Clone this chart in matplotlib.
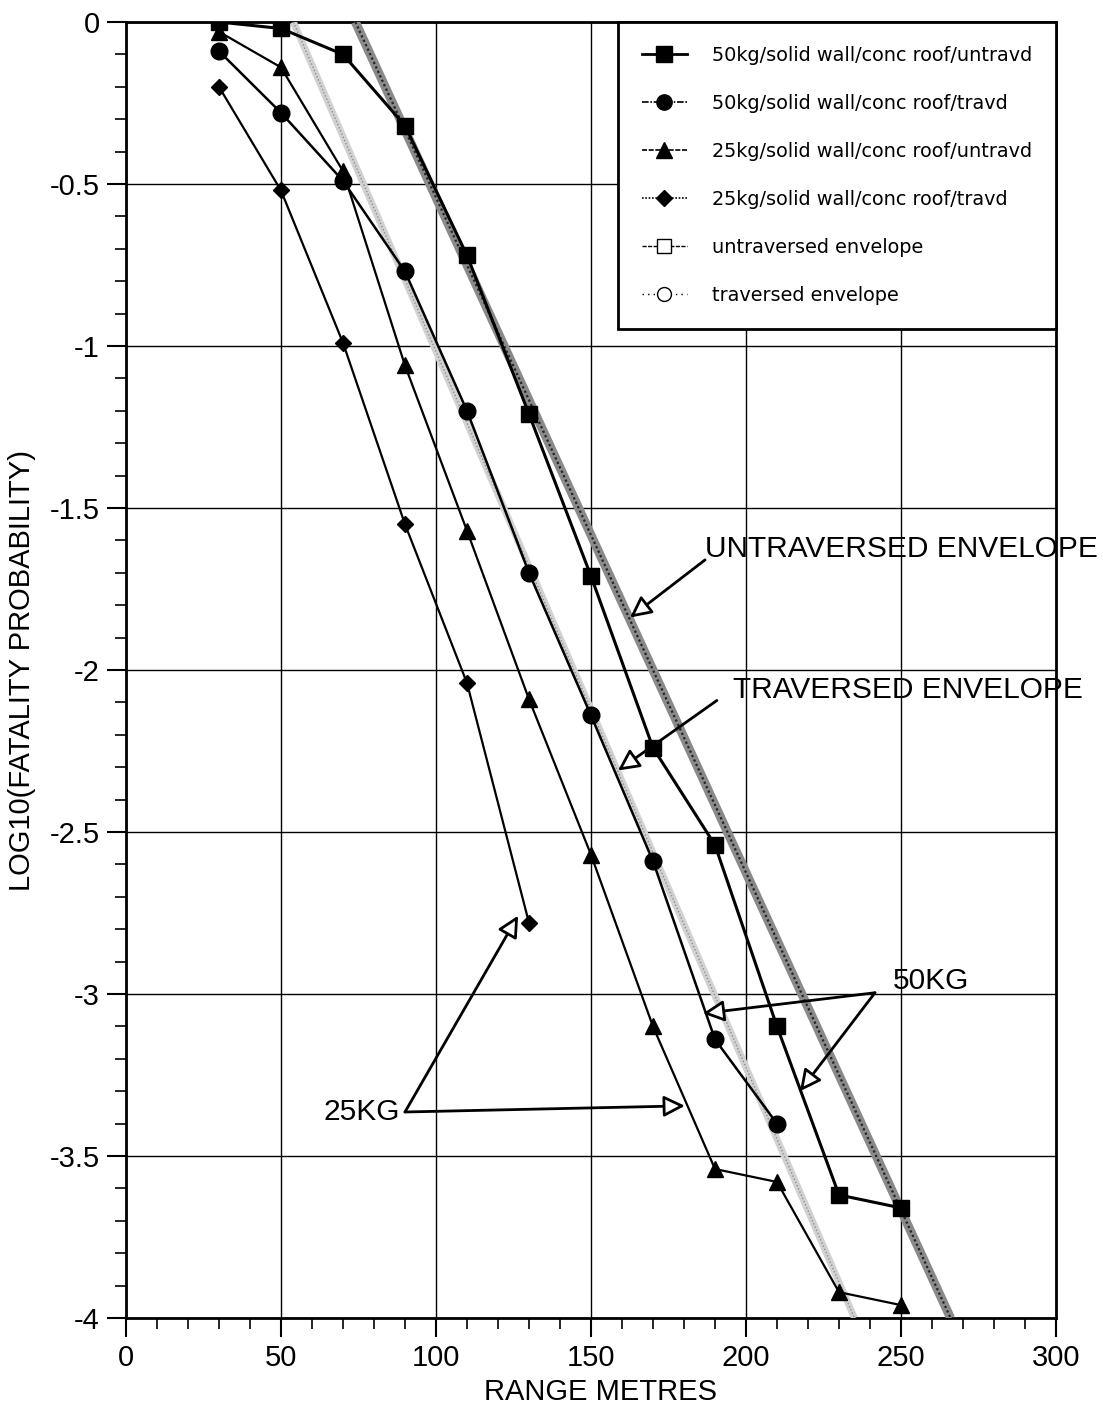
import matplotlib
matplotlib.use("Agg")
import matplotlib.pyplot as plt
from matplotlib.lines import Line2D
from matplotlib.ticker import MultipleLocator, FuncFormatter

plt.rcParams['font.family'] = ['Liberation Sans', 'DejaVu Sans']

# Data
range_50_untrav = [30, 50, 70, 90, 110, 130, 150, 170, 190, 210, 230, 250]
log_50_untrav = [0.0, -0.02, -0.10, -0.32, -0.72, -1.21, -1.71, -2.24, -2.54, -3.10, -3.62, -3.66]

range_50_trav = [30, 50, 70, 90, 110, 130, 150, 170, 190, 210]
log_50_trav = [-0.09, -0.28, -0.49, -0.77, -1.20, -1.70, -2.14, -2.59, -3.14, -3.40]

range_25_untrav = [30, 50, 70, 90, 110, 130, 150, 170, 190, 210, 230, 250]
log_25_untrav = [-0.03, -0.14, -0.46, -1.06, -1.57, -2.09, -2.57, -3.10, -3.54, -3.58, -3.92, -3.96]

range_25_trav = [30, 50, 70, 90, 110, 130]
log_25_trav = [-0.20, -0.52, -0.99, -1.55, -2.04, -2.78]

range_untrav_env = [74, 266]
log_untrav_env = [0.0, -4.0]

range_trav_env = [54, 235]
log_trav_env = [0.0, -4.0]

labels = ["50kg/solid wall/conc roof/untravd",
          "50kg/solid wall/conc roof/travd",
          "25kg/solid wall/conc roof/untravd",
          "25kg/solid wall/conc roof/travd",
          "untraversed envelope",
          "traversed envelope"]

fig = plt.figure(figsize=(11.03, 14.10), dpi=100)
ax = fig.add_axes([0.1142, 0.0652, 0.9574 - 0.1142, 0.9844 - 0.0652])

# envelopes
ax.plot(range_untrav_env, log_untrav_env, color='#8a8a8a', lw=6.5, solid_capstyle='butt', zorder=3)
ax.plot(range_untrav_env, log_untrav_env, color='#222222', lw=1.6, ls=(0, (1, 1.2)), zorder=3.1)
ax.plot(range_trav_env, log_trav_env, color='#d2d2d2', lw=5, solid_capstyle='butt', zorder=3)
ax.plot(range_trav_env, log_trav_env, color='#8c8c8c', lw=1.0, ls=(0, (1, 1.5)), zorder=3.1)

# series
ax.plot(range_50_untrav, log_50_untrav, color='black', lw=2.2, marker='s', ms=12, zorder=4)
ax.plot(range_50_trav, log_50_trav, color='black', lw=1.8, marker='o', ms=12, zorder=4)
ax.plot(range_25_untrav, log_25_untrav, color='black', lw=1.6, marker='^', ms=11, zorder=4)
ax.plot(range_25_trav, log_25_trav, color='black', lw=1.6, marker='D', ms=8, zorder=4)

ax.set_xlim(0, 300)
ax.set_ylim(-4, 0)
ax.xaxis.set_major_locator(MultipleLocator(50))
ax.xaxis.set_minor_locator(MultipleLocator(10))
ax.yaxis.set_major_locator(MultipleLocator(0.5))
ax.yaxis.set_minor_locator(MultipleLocator(0.1))
ax.yaxis.set_major_formatter(FuncFormatter(lambda v, p: ('%g' % v) if v != 0 else '0'))
ax.grid(True, which='major', color='black', lw=1.0)
ax.tick_params(which='major', direction='out', length=14, width=1.5, labelsize=21, pad=5)
ax.tick_params(which='minor', direction='out', length=8, width=1.2)
for s in ax.spines.values():
    s.set_linewidth(2)
    s.set_color('black')

ax.set_xlabel("RANGE METRES", fontsize=21)
ax.xaxis.set_label_coords(0.51, -0.046)
ax.set_ylabel("LOG10(FATALITY PROBABILITY)", fontsize=21)
ax.yaxis.set_label_coords(-0.097, 0.5)

# legend
handles = [
    Line2D([], [], color='black', lw=2, marker='s', ms=11),
    Line2D([], [], color='black', lw=1.2, ls=(0, (4, 1, 1, 1)), marker='o', ms=11),
    Line2D([], [], color='black', lw=1.2, ls=(0, (3, 1)), marker='^', ms=11),
    Line2D([], [], color='black', lw=1.2, ls=(0, (1, 1)), marker='D', ms=8),
    Line2D([], [], color='black', lw=1.0, ls=(0, (3, 1)), marker='s', ms=10, mfc='white', mec='black'),
    Line2D([], [], color='black', lw=1.0, ls=(0, (1, 3)), marker='o', ms=10, mfc='white', mec='black'),
]
leg = ax.legend(handles, labels, loc='upper right', bbox_to_anchor=(1, 1), borderaxespad=0,
                fancybox=False, edgecolor='black', framealpha=1,
                prop={'family': 'DejaVu Sans', 'size': 13.9},
                labelspacing=1.5, handlelength=2.3, handletextpad=1.3, borderpad=1.25)
leg.get_frame().set_linewidth(2)
leg.set_zorder(10)

arrow = dict(arrowstyle='-|>', fc='white', ec='black', lw=2, mutation_scale=32, shrinkA=0, shrinkB=0)
tfs = 21.5

ax.text(186.8, -1.625, "UNTRAVERSED ENVELOPE", fontsize=tfs, va='center', ha='left', clip_on=False, zorder=6)
ax.annotate("", xy=(162.6, -1.838), xytext=(186.8, -1.66), arrowprops=arrow, zorder=6)

ax.text(195.8, -2.063, "TRAVERSED ENVELOPE", fontsize=tfs, va='center', ha='left', clip_on=False, zorder=6)
ax.annotate("", xy=(158.7, -2.31), xytext=(190.6, -2.094), arrowprops=arrow, zorder=6)

ax.text(247.4, -2.96, "50KG", fontsize=tfs, va='center', ha='left', zorder=6)
ax.annotate("", xy=(186.1, -3.06), xytext=(241.6, -2.996), arrowprops=arrow, zorder=6)
ax.annotate("", xy=(217.4, -3.30), xytext=(241.6, -2.996), arrowprops=arrow, zorder=6)

ax.text(88.5, -3.364, "25KG", fontsize=tfs, va='center', ha='right', zorder=6)
ax.annotate("", xy=(126.5, -2.758), xytext=(90, -3.364), arrowprops=arrow, zorder=6)
ax.annotate("", xy=(180.3, -3.345), xytext=(90, -3.364), arrowprops=arrow, zorder=6)

fig.savefig("out.png", dpi=100)
